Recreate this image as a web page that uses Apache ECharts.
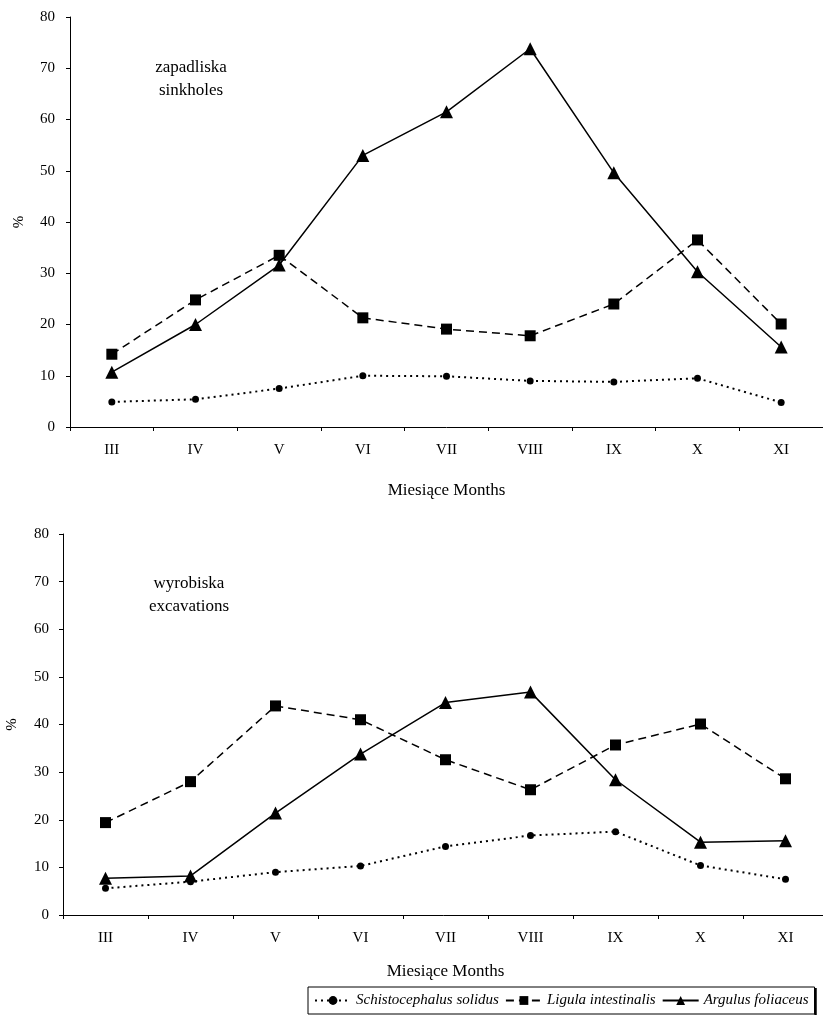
<!DOCTYPE html>
<html>
<head>
<meta charset="utf-8">
<script src="https://cdn.jsdelivr.net/npm/echarts@6/dist/echarts.min.js"></script>
<style>html,body{margin:0;padding:0;background:#fff}#c{width:823px;height:1024px}</style>
</head>
<body>
<div id="c"></div>
<script>
var months = ['III','IV','V','VI','VII','VIII','IX','X','XI'];
var seriesNames = ['Schistocephalus solidus','Ligula intestinalis','Argulus foliaceus'];
// top panel: sinkholes
var sinkSchisto = [4.9, 5.4, 7.5, 10.0, 9.9, 9.0, 8.8, 9.5, 4.8];
var sinkLigula  = [14.2, 24.8, 33.5, 21.3, 19.1, 17.8, 24.0, 36.5, 20.1];
var sinkArgulus = [10.7, 20.0, 31.6, 53.0, 61.5, 73.8, 49.6, 30.3, 15.6];
// bottom panel: excavations
var excSchisto = [5.6, 7.0, 9.0, 10.3, 14.4, 16.7, 17.5, 10.4, 7.5];
var excLigula  = [19.4, 28.0, 43.9, 41.0, 32.6, 26.3, 35.7, 40.1, 28.6];
var excArgulus = [7.7, 8.2, 21.4, 33.8, 44.6, 46.8, 28.4, 15.3, 15.6];
var yTicks = [0,10,20,30,40,50,60,70,80];

var FONT = '"Liberation Serif", "DejaVu Serif", serif';
var chart = echarts.init(document.getElementById('c'));

function xAx(idx){
  return {
    type:'category', gridIndex:idx, data:months, boundaryGap:true,
    axisLine:{lineStyle:{color:'#000',width:1}},
    axisTick:{show:true, length:4, inside:false, lineStyle:{color:'#000'}},
    axisLabel:{color:'#000', fontFamily:FONT, fontSize:15, margin:16},
    name:'Miesiące Months', nameLocation:'middle', nameGap: idx===0 ? 55 : 48,
    nameTextStyle:{color:'#000', fontFamily:FONT, fontSize:17}
  };
}
function yAx(idx){
  return {
    type:'value', gridIndex:idx, min:0, max:80, interval:10,
    axisLine:{show:true, lineStyle:{color:'#000',width:1}},
    axisTick:{show:true, length:4, lineStyle:{color:'#000'}},
    splitLine:{show:false},
    axisLabel:{color:'#000', fontFamily:FONT, fontSize:15, margin: idx===0 ? 15 : 14,
      formatter:function(v){ return yTicks.indexOf(v) >= 0 ? String(v) : ''; }},
    name:'%', nameLocation:'middle', nameGap:43,
    nameTextStyle:{color:'#000', fontFamily:FONT, fontSize:15}
  };
}
function mk(name, data, idx, kind){
  var s = {name:name, type:'line', xAxisIndex:idx, yAxisIndex:idx, data:data,
    itemStyle:{color:'#000'}, lineStyle:{color:'#000', width:1.5}, z:kind==='tri'?3:2,
    animation:false};
  if(kind==='dot'){ s.symbol='circle'; s.symbolSize=7; s.lineStyle.type=[2,4]; s.lineStyle.width=2; }
  if(kind==='sq'){ s.symbol='rect'; s.symbolSize=11; s.lineStyle.type=[8,5]; }
  if(kind==='tri'){ s.symbol='triangle'; s.symbolSize=13; s.lineStyle.type='solid'; }
  return s;
}

chart.setOption({
  animation:false,
  backgroundColor:'#fff',
  grid:[
    {left:70, top:17, width:753, height:410, containLabel:false, outerBoundsMode:'none'},
    {left:63, top:534, width:765, height:381, containLabel:false, outerBoundsMode:'none'}
  ],
  xAxis:[xAx(0), xAx(1)],
  yAxis:[yAx(0), yAx(1)],
  legend:{
    left:308, top:987, width:515, orient:'horizontal',
    data:seriesNames,
    itemWidth:36, itemHeight:11, itemGap:6,
    padding:[6,6,6,6],
    borderColor:'#000', borderWidth:1, borderRadius:0,
    textStyle:{color:'#000', fontFamily:FONT, fontSize:15, fontStyle:'italic'}
  },
  graphic:[
    {type:'text', x:191, y:56, style:{text:'zapadliska\nsinkholes', fill:'#000', font:'17px '+FONT, textAlign:'center', lineHeight:23}},
    {type:'text', x:189, y:572, style:{text:'wyrobiska\nexcavations', fill:'#000', font:'17px '+FONT, textAlign:'center', lineHeight:23}},
    {type:'line', shape:{x1:815.5, y1:988, x2:815.5, y2:1015}, style:{stroke:'#000', lineWidth:2.5}}
  ],
  series:[
    mk(seriesNames[0], sinkSchisto, 0, 'dot'),
    mk(seriesNames[1], sinkLigula, 0, 'sq'),
    mk(seriesNames[2], sinkArgulus, 0, 'tri'),
    mk(seriesNames[0], excSchisto, 1, 'dot'),
    mk(seriesNames[1], excLigula, 1, 'sq'),
    mk(seriesNames[2], excArgulus, 1, 'tri')
  ]
});
</script>
</body>
</html>
